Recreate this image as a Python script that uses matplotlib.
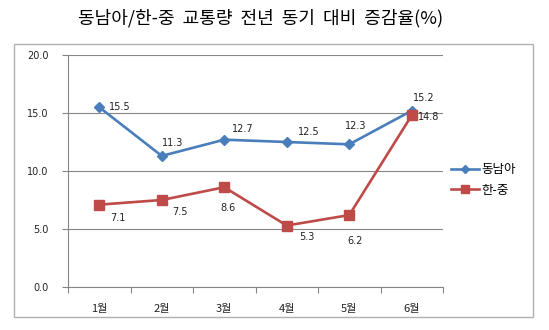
import matplotlib.pyplot as plt
import matplotlib.patches as patches

plt.rcParams['font.family'] = ['Noto Sans CJK KR', 'DejaVu Sans']

months = ['1월', '2월', '3월', '4월', '5월', '6월']
sea = [15.5, 11.3, 12.7, 12.5, 12.3, 15.2]       # 동남아
kc = [7.1, 7.5, 8.6, 5.3, 6.2, 14.8]             # 한-중
y_ticks = [0, 5, 10, 15, 20]

# label offsets in pixels (as placed in the original chart)
sea_off = [(21, 0), (11, 13), (19, 11), (22, 10), (6, 18), (12, 13)]
kc_off = [(19, -13), (18, -12), (4, -21), (20, -11), (6, -26), (17, -2)]

blue = '#4a7ebb'
red = '#be4b48'
grid_c = '#868686'
num_font = 'DejaVu Sans'

fig = plt.figure(figsize=(5.49, 3.30), dpi=100)
ax = fig.add_axes([68/549, 1-287/330, 375/549, 232/330])

# outer chart border
fig.patches.append(patches.Rectangle((14/549, 1-317/330), 519/549, 273/330,
                                     transform=fig.transFigure, fill=False,
                                     edgecolor='#b0b0b0', linewidth=1.0))

x = list(range(len(months)))
ax.plot(x, sea, color=blue, lw=1.9, marker='D', ms=5.5, label='동남아')
ax.plot(x, kc, color=red, lw=1.9, marker='s', ms=6.5, label='한-중')

for i in x:
    ax.annotate(f'{sea[i]:.1f}', (i, sea[i]), xytext=sea_off[i], textcoords='offset pixels',
                ha='center', va='center', fontsize=7, color='#222222', family=num_font)
    ax.annotate(f'{kc[i]:.1f}', (i, kc[i]), xytext=kc_off[i], textcoords='offset pixels',
                ha='center', va='center', fontsize=7, color='#222222', family=num_font)

ax.set_xlim(-0.5, 5.5)
ax.set_ylim(0, 20)
ax.set_yticks(y_ticks)
ax.set_yticklabels([f'{v:.1f}' for v in y_ticks], fontsize=7, color='#222222', family=num_font)
ax.set_xticks([i - 0.5 for i in range(7)])
ax.set_xticklabels([])
ax.set_xticks(x, minor=True)
ax.set_xticklabels(months, minor=True, fontsize=8, color='#222222')
ax.tick_params(axis='x', which='minor', length=0, pad=12)
ax.tick_params(axis='x', which='major', length=4, color=grid_c)
ax.tick_params(axis='y', length=4, color=grid_c, pad=10)
ax.grid(axis='y', color=grid_c, lw=0.8)
ax.set_axisbelow(True)
for s in ['top', 'right']:
    ax.spines[s].set_visible(False)
for s in ['left', 'bottom']:
    ax.spines[s].set_color(grid_c)
    ax.spines[s].set_linewidth(0.8)

fig.legend(loc='center left', bbox_to_anchor=(440/549, 1-180/330), frameon=False,
           fontsize=9, handlelength=2.2, handletextpad=0.2, labelspacing=0.6,
           markerscale=0.8)

fig.text(261/549, 1-18/330, '동남아/한-중  교통량  전년  동기  대비  증감율(%)',
         ha='center', va='center', fontsize=13, fontweight='light')

fig.savefig('out.png', dpi=100)
